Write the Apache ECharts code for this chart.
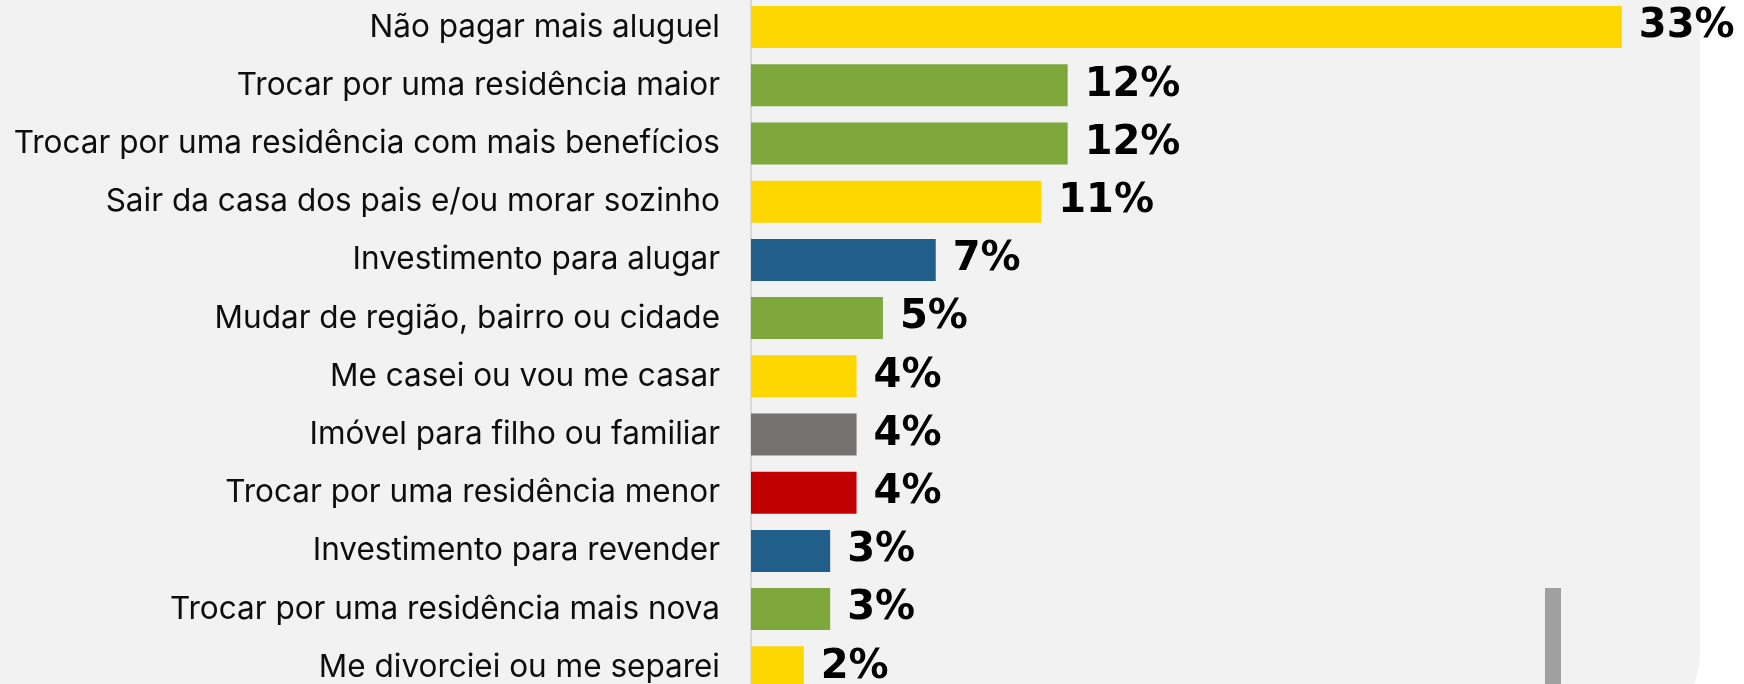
<!DOCTYPE html>
<html>
<head>
<meta charset="utf-8">
<script src="https://cdn.jsdelivr.net/npm/echarts@6/dist/echarts.min.js"></script>
<style>
  html, body { margin: 0; padding: 0; background: #ffffff; overflow: hidden; width: 1744px; height: 684px; }
  /* the plot runs slightly past the bottom edge of the page */
  #chart { position: absolute; left: 0; top: -3px; width: 1744px; height: 720px; }
</style>
</head>
<body>
<div id="chart"></div>
<script>
// Motivos para a compra do imóvel (% das respostas)
const categories = [
  'Não pagar mais aluguel',
  'Trocar por uma residência maior',
  'Trocar por uma residência com mais benefícios',
  'Sair da casa dos pais e/ou morar sozinho',
  'Investimento para alugar',
  'Mudar de região, bairro ou cidade',
  'Me casei ou vou me casar',
  'Imóvel para filho ou familiar',
  'Trocar por uma residência menor',
  'Investimento para revender',
  'Trocar por uma residência mais nova',
  'Me divorciei ou me separei'
];
const values = [33, 12, 12, 11, 7, 5, 4, 4, 4, 3, 3, 2];

const YELLOW = '#ffd700', GREEN = '#7ea83c', BLUE = '#215f8a', GREY = '#767171', RED = '#c00000';
const barColors = [YELLOW, GREEN, GREEN, YELLOW, BLUE, GREEN, YELLOW, GREY, RED, BLUE, GREEN, YELLOW];

const chart = echarts.init(document.getElementById('chart'), null, { renderer: 'canvas' });

chart.setOption({
  backgroundColor: '#ffffff',
  animation: false,
  graphic: [
    {
      type: 'rect', z: -10, silent: true,
      shape: { x: -120, y: -65, width: 1820, height: 804, r: 83 },
      style: { fill: '#f2f2f2' }
    },
    {
      type: 'rect', z: -5, silent: true,
      shape: { x: 1545, y: 591, width: 16, height: 140 },
      style: { fill: '#a0a0a0' }
    }
  ],
  grid: { left: 751, right: 43, top: 1, height: 698.4, containLabel: false },
  xAxis: {
    type: 'value', min: 0, max: 36,
    show: false,
    splitLine: { show: false }
  },
  yAxis: {
    type: 'category',
    inverse: true,
    data: categories,
    axisLine: { show: true, lineStyle: { color: '#d9d9d9', width: 2 } },
    axisTick: { show: false },
    axisLabel: {
      margin: 31,
      fontSize: 31.5,
      padding: [3, 0, 0, 0],
      color: '#0d0d0d',
      fontFamily: 'Inter, "Open Sans", sans-serif'
    }
  },
  series: [{
    type: 'bar',
    barWidth: 42,
    data: values.map((v, i) => ({ value: v, itemStyle: { color: barColors[i] } })),
    label: {
      show: true,
      position: 'right',
      distance: 17,
      formatter: p => p.value + '%',
      fontSize: 40,
      fontWeight: 'bold',
      color: '#000000',
      fontFamily: '"DejaVu Sans", sans-serif'
    }
  }]
});
</script>
</body>
</html>
